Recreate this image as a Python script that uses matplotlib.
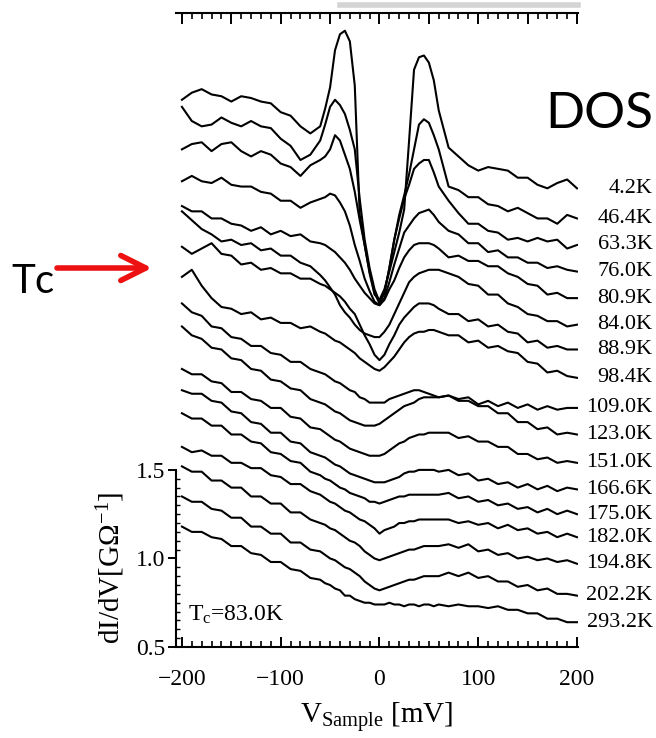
import matplotlib
matplotlib.use('Agg')
import matplotlib.pyplot as plt
from matplotlib.ticker import MultipleLocator, FixedLocator, NullFormatter
from matplotlib.transforms import blended_transform_factory

plt.rcParams['font.family'] = ['Liberation Serif', 'DejaVu Serif']
plt.rcParams['mathtext.fontset'] = 'custom'
plt.rcParams['mathtext.rm'] = 'Liberation Serif'
plt.rcParams['mathtext.it'] = 'Liberation Serif'

# sample bias [mV]
bias = [-200, -190, -180, -170, -160, -150, -140, -130, -120, -110, -100, -90, -80, -70, -60,
        -55, -50, -45, -40, -35, -30, -25, -20, -15, -10, -5, 0, 5, 10, 15, 20, 25, 30, 35, 40, 45, 50, 55,
        60, 70, 80, 90, 100, 110, 120, 130, 140, 150, 160, 170, 180, 190, 200]

# dI/dV spectra (waterfall, already offset), top to bottom
dos_4p2 = [3.59, 3.63, 3.65, 3.62, 3.61, 3.58, 3.61, 3.60, 3.58, 3.57, 3.52, 3.50, 3.44, 3.40, 3.44,
           3.54, 3.66, 3.87, 3.96, 3.98, 3.92, 3.67, 2.94, 2.77, 2.61, 2.49, 2.46, 2.52, 2.62, 2.73, 2.84, 2.97, 3.36, 3.76, 3.83, 3.84, 3.80, 3.70,
           3.53, 3.32, 3.27, 3.22, 3.19, 3.21, 3.20, 3.19, 3.15, 3.15, 3.11, 3.09, 3.12, 3.14, 3.09]
dos_46p4 = [3.55, 3.47, 3.44, 3.45, 3.49, 3.46, 3.44, 3.47, 3.44, 3.43, 3.37, 3.33, 3.25, 3.28, 3.36,
            3.45, 3.55, 3.59, 3.56, 3.51, 3.42, 3.31, 3.03, 2.80, 2.64, 2.52, 2.45, 2.50, 2.64, 2.80, 2.94, 3.05, 3.17, 3.31, 3.45, 3.48, 3.46, 3.39,
            3.31, 3.10, 3.08, 3.04, 3.04, 3.00, 2.99, 2.96, 2.98, 2.95, 2.92, 2.92, 2.89, 2.94, 2.92]
dos_63p3 = [3.31, 3.34, 3.35, 3.30, 3.34, 3.35, 3.30, 3.27, 3.30, 3.28, 3.23, 3.21, 3.16, 3.22, 3.25,
            3.27, 3.31, 3.39, 3.36, 3.28, 3.20, 3.07, 2.91, 2.77, 2.62, 2.50, 2.44, 2.50, 2.64, 2.80, 2.92, 3.03, 3.11, 3.20, 3.23, 3.25, 3.25, 3.18,
            3.10, 3.02, 2.95, 2.89, 2.89, 2.85, 2.84, 2.80, 2.81, 2.79, 2.81, 2.79, 2.80, 2.75, 2.77]
dos_76p0 = [3.13, 3.16, 3.13, 3.12, 3.15, 3.11, 3.10, 3.10, 3.07, 3.06, 3.02, 3.02, 2.98, 3.01, 3.03,
            3.04, 3.06, 3.05, 3.01, 2.96, 2.88, 2.77, 2.68, 2.58, 2.51, 2.45, 2.43, 2.47, 2.56, 2.66, 2.75, 2.84, 2.88, 2.92, 2.95, 2.96, 2.97, 2.94,
            2.90, 2.85, 2.83, 2.78, 2.78, 2.73, 2.74, 2.70, 2.70, 2.67, 2.67, 2.64, 2.65, 2.63, 2.62]
dos_80p9 = [2.99, 2.96, 2.96, 2.92, 2.92, 2.89, 2.88, 2.85, 2.87, 2.83, 2.85, 2.82, 2.83, 2.79, 2.78,
            2.77, 2.75, 2.73, 2.70, 2.67, 2.63, 2.58, 2.54, 2.50, 2.47, 2.44, 2.43, 2.46, 2.52, 2.57, 2.64, 2.70, 2.74, 2.77, 2.78, 2.78, 2.78, 2.77,
            2.75, 2.70, 2.71, 2.68, 2.68, 2.65, 2.65, 2.61, 2.59, 2.55, 2.54, 2.49, 2.50, 2.47, 2.47]
dos_84p0 = [2.96, 2.91, 2.86, 2.83, 2.79, 2.80, 2.77, 2.78, 2.74, 2.75, 2.71, 2.71, 2.67, 2.65, 2.60,
            2.57, 2.53, 2.49, 2.43, 2.39, 2.36, 2.32, 2.29, 2.27, 2.26, 2.25, 2.25, 2.28, 2.32, 2.38, 2.44, 2.50, 2.56, 2.59, 2.61, 2.62, 2.63, 2.63,
            2.63, 2.61, 2.59, 2.55, 2.54, 2.49, 2.49, 2.44, 2.42, 2.38, 2.37, 2.34, 2.34, 2.31, 2.32]
dos_88p9 = [2.76, 2.72, 2.75, 2.78, 2.72, 2.71, 2.66, 2.67, 2.63, 2.64, 2.61, 2.61, 2.58, 2.58, 2.55,
            2.54, 2.52, 2.50, 2.48, 2.45, 2.41, 2.38, 2.32, 2.26, 2.21, 2.15, 2.12, 2.15, 2.21, 2.26, 2.32, 2.36, 2.39, 2.42, 2.44, 2.44, 2.44, 2.43,
            2.41, 2.38, 2.38, 2.34, 2.35, 2.31, 2.32, 2.28, 2.27, 2.22, 2.23, 2.19, 2.20, 2.18, 2.18]
dos_98p4 = [2.59, 2.63, 2.54, 2.47, 2.42, 2.41, 2.38, 2.39, 2.35, 2.36, 2.33, 2.33, 2.30, 2.31, 2.28,
            2.27, 2.25, 2.23, 2.22, 2.20, 2.18, 2.16, 2.13, 2.11, 2.09, 2.07, 2.06, 2.08, 2.11, 2.14, 2.18, 2.22, 2.25, 2.27, 2.28, 2.28, 2.29, 2.29,
            2.28, 2.26, 2.26, 2.22, 2.23, 2.19, 2.20, 2.17, 2.16, 2.11, 2.10, 2.05, 2.06, 2.03, 2.02]
dos_109p0 = [2.44, 2.39, 2.37, 2.31, 2.30, 2.25, 2.24, 2.20, 2.20, 2.16, 2.15, 2.11, 2.11, 2.07, 2.05,
             2.04, 2.02, 2.00, 1.99, 1.97, 1.95, 1.94, 1.91, 1.90, 1.88, 1.88, 1.88, 1.88, 1.90, 1.91, 1.92, 1.93, 1.94, 1.95, 1.95, 1.94, 1.93, 1.92,
             1.91, 1.92, 1.90, 1.91, 1.87, 1.89, 1.86, 1.88, 1.85, 1.87, 1.84, 1.86, 1.84, 1.85, 1.85]
dos_123p0 = [2.31, 2.26, 2.24, 2.19, 2.18, 2.13, 2.12, 2.07, 2.06, 2.01, 2.00, 1.96, 1.95, 1.90, 1.88,
             1.87, 1.85, 1.83, 1.82, 1.80, 1.78, 1.77, 1.76, 1.75, 1.75, 1.75, 1.76, 1.78, 1.80, 1.82, 1.84, 1.86, 1.87, 1.88, 1.90, 1.91, 1.91, 1.91,
             1.91, 1.92, 1.89, 1.89, 1.86, 1.86, 1.82, 1.82, 1.77, 1.77, 1.73, 1.74, 1.70, 1.71, 1.70]
dos_151p0 = [2.07, 2.04, 2.04, 2.00, 1.99, 1.94, 1.94, 1.90, 1.89, 1.85, 1.85, 1.80, 1.79, 1.74, 1.73,
             1.71, 1.69, 1.67, 1.66, 1.64, 1.62, 1.61, 1.60, 1.59, 1.58, 1.58, 1.58, 1.59, 1.61, 1.63, 1.65, 1.66, 1.68, 1.69, 1.70, 1.70, 1.71, 1.71,
             1.71, 1.71, 1.68, 1.69, 1.66, 1.66, 1.63, 1.63, 1.59, 1.59, 1.56, 1.57, 1.54, 1.55, 1.54]
dos_166p6 = [1.95, 1.93, 1.93, 1.89, 1.88, 1.83, 1.82, 1.77, 1.76, 1.71, 1.71, 1.66, 1.65, 1.60, 1.58,
             1.57, 1.55, 1.53, 1.52, 1.50, 1.48, 1.47, 1.46, 1.45, 1.44, 1.43, 1.43, 1.43, 1.44, 1.45, 1.46, 1.48, 1.49, 1.49, 1.50, 1.50, 1.50, 1.50,
             1.49, 1.50, 1.47, 1.48, 1.44, 1.45, 1.42, 1.43, 1.40, 1.42, 1.39, 1.41, 1.38, 1.40, 1.39]
dos_175p0 = [1.82, 1.79, 1.79, 1.75, 1.75, 1.70, 1.70, 1.66, 1.65, 1.60, 1.59, 1.55, 1.54, 1.49, 1.47,
             1.45, 1.44, 1.42, 1.40, 1.39, 1.37, 1.36, 1.35, 1.34, 1.32, 1.32, 1.31, 1.32, 1.33, 1.34, 1.35, 1.35, 1.36, 1.36, 1.36, 1.36, 1.36, 1.36,
             1.36, 1.37, 1.34, 1.35, 1.32, 1.33, 1.30, 1.31, 1.28, 1.29, 1.26, 1.28, 1.25, 1.27, 1.25]
dos_182p0 = [1.63, 1.60, 1.61, 1.58, 1.58, 1.54, 1.54, 1.51, 1.51, 1.47, 1.46, 1.42, 1.42, 1.38, 1.36,
             1.34, 1.32, 1.31, 1.29, 1.27, 1.26, 1.24, 1.22, 1.21, 1.19, 1.17, 1.14, 1.16, 1.17, 1.18, 1.20, 1.20, 1.21, 1.21, 1.22, 1.22, 1.22, 1.22,
             1.22, 1.22, 1.20, 1.21, 1.19, 1.20, 1.17, 1.19, 1.16, 1.17, 1.14, 1.15, 1.12, 1.14, 1.12]
dos_194p8 = [1.52, 1.49, 1.49, 1.44, 1.44, 1.40, 1.40, 1.35, 1.35, 1.31, 1.31, 1.26, 1.26, 1.22, 1.20,
             1.19, 1.17, 1.16, 1.14, 1.12, 1.10, 1.09, 1.07, 1.04, 1.02, 1.00, 0.99, 1.00, 1.01, 1.02, 1.03, 1.04, 1.05, 1.05, 1.06, 1.07, 1.07, 1.07,
             1.07, 1.08, 1.06, 1.08, 1.04, 1.05, 1.02, 1.03, 1.00, 1.01, 0.99, 1.00, 0.98, 0.99, 0.97]
dos_202p2 = [1.35, 1.32, 1.32, 1.28, 1.27, 1.23, 1.23, 1.18, 1.18, 1.14, 1.14, 1.09, 1.09, 1.05, 1.04,
             1.02, 1.00, 0.99, 0.97, 0.95, 0.94, 0.92, 0.90, 0.87, 0.85, 0.83, 0.82, 0.83, 0.84, 0.85, 0.86, 0.87, 0.88, 0.88, 0.89, 0.90, 0.90, 0.90,
             0.90, 0.92, 0.90, 0.92, 0.89, 0.90, 0.87, 0.87, 0.84, 0.85, 0.82, 0.83, 0.80, 0.80, 0.79]
dos_293p2 = [1.18, 1.15, 1.15, 1.12, 1.11, 1.07, 1.07, 1.03, 1.02, 0.98, 0.98, 0.94, 0.93, 0.89, 0.88,
             0.86, 0.85, 0.83, 0.82, 0.79, 0.79, 0.77, 0.76, 0.75, 0.75, 0.74, 0.74, 0.74, 0.75, 0.74, 0.74, 0.73, 0.74, 0.74, 0.73, 0.74, 0.74, 0.73,
             0.74, 0.73, 0.74, 0.73, 0.73, 0.72, 0.73, 0.71, 0.71, 0.69, 0.69, 0.66, 0.66, 0.64, 0.64]

temps = ['4.2K', '46.4K', '63.3K', '76.0K', '80.9K', '84.0K', '88.9K', '98.4K', '109.0K',
         '123.0K', '151.0K', '166.6K', '175.0K', '182.0K', '194.8K', '202.2K', '293.2K']
spectra = [dos_4p2, dos_46p4, dos_63p3, dos_76p0, dos_80p9, dos_84p0, dos_88p9, dos_98p4, dos_109p0,
           dos_123p0, dos_151p0, dos_166p6, dos_175p0, dos_182p0, dos_194p8, dos_202p2, dos_293p2]

fig = plt.figure(figsize=(6.56, 7.38), dpi=100)
ax = fig.add_axes([176 / 656, 1 - 647 / 738, 402 / 656, 634 / 738])

for s in spectra:
    ax.plot(bias, s, color='black', lw=1.5, solid_joinstyle='round')

ax.set_xlim(-206, 201)
ax.set_ylim(0.5, 4.08)

ax.spines['right'].set_visible(False)
ax.spines['top'].set_visible(False)
ax.spines['left'].set_bounds(0.5, 1.5)
for sp in ['left', 'bottom']:
    ax.spines[sp].set_linewidth(1.5)

# y axis: only the 0.5 - 1.5 part carries ticks
ax.set_yticks([0.5, 1.0, 1.5])
ax.set_yticklabels(['0.5', '1.0', '1.5'])
ax.yaxis.set_minor_locator(FixedLocator([0.5 + 0.05 * i for i in range(21)]))
ax.tick_params(axis='y', which='major', direction='out', length=6, width=1.4, labelsize=17, pad=2)
ax.tick_params(axis='y', which='minor', direction='in', length=3, width=1.0)

# bottom axis
ax.set_xticks([-200, -100, 0, 100, 200])
ax.set_xticklabels(['\u2212200', '\u2212100', '0', '100', '200'])
ax.xaxis.set_minor_locator(MultipleLocator(10))
ax.tick_params(axis='x', which='major', direction='in', length=7, width=1.4, labelsize=17, pad=16)
ax.tick_params(axis='x', which='minor', direction='in', length=4, width=1.2)

# top axis with its own tick spacing
top = ax.secondary_xaxis('top')
top.spines['top'].set_linewidth(1.5)
top.set_xticks(list(range(-200, 201, 50)))
top.xaxis.set_minor_locator(MultipleLocator(10))
top.xaxis.set_major_formatter(NullFormatter())
top.tick_params(axis='x', which='major', direction='in', length=8, width=1.4)
top.tick_params(axis='x', which='minor', direction='in', length=4, width=1.2)

# light scan streak above the top axis
trans_top = blended_transform_factory(ax.transData, ax.transAxes)
ax.plot([-40, 201], [1.012, 1.012], transform=trans_top, color='#d4d4d4', lw=4, clip_on=False)

ax.set_xlabel(r'V$_{\mathrm{Sample}}$ [mV]', fontsize=21, labelpad=7)
ax.text(-0.162, 0.125, r'dI/dV[G$\Omega^{-1}$]', transform=ax.transAxes, rotation=90,
        fontsize=21, ha='center', va='center')

# temperature labels at the right end of each curve
trans_lab = blended_transform_factory(fig.transFigure, ax.transData)
for s, t in zip(spectra, temps):
    ax.text(0.995, s[-1], t, transform=trans_lab, ha='right', va='center', fontsize=16,
            clip_on=False)

ax.text(0.03, 0.05, r'T$_c$=83.0K', transform=ax.transAxes, fontsize=17, ha='left', va='center')

sans = ['Lato', 'DejaVu Sans']
fig.text(545 / 656, 1 - 128 / 738, 'DOS', family=sans, fontsize=37, va='baseline')
fig.text(11 / 656, 1 - 293 / 738, 'Tc', family=sans, fontsize=29, va='baseline')
ax.annotate('', xy=(152 / 656, 1 - 268 / 738), xytext=(57 / 656, 1 - 268 / 738),
            xycoords='figure fraction', textcoords='figure fraction',
            arrowprops=dict(arrowstyle='->,head_length=0.9,head_width=0.45', color='#ee1111',
                            lw=4, mutation_scale=20, shrinkA=0, shrinkB=0))

fig.savefig('out.png', dpi=100)
